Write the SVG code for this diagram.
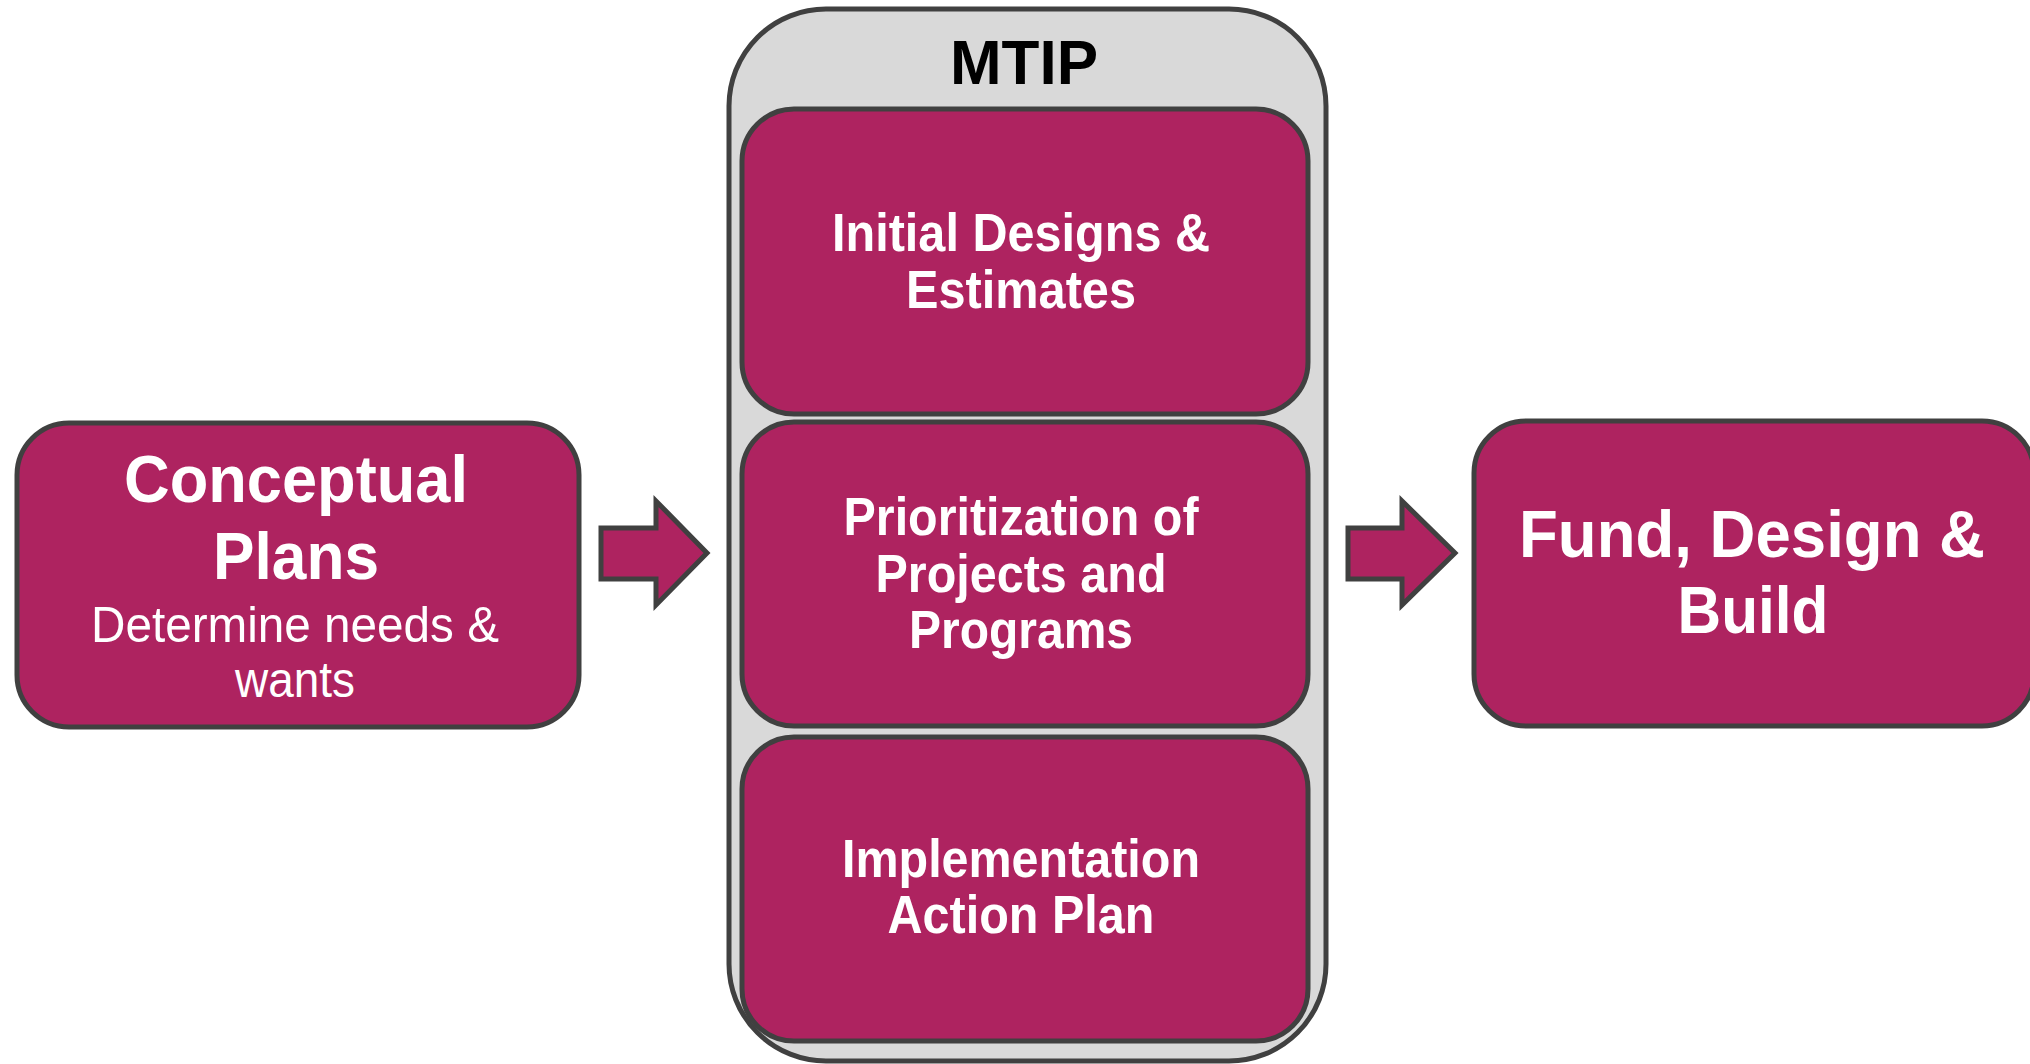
<svg xmlns="http://www.w3.org/2000/svg" width="2030" height="1064" viewBox="0 0 2030 1064">
<style>
.box{fill:#ae2360;stroke:#404040;stroke-width:5}
.cont{fill:#d9d9d9;stroke:#404040;stroke-width:5}
.t{font-family:"Liberation Sans",Arial,sans-serif;fill:#ffffff;text-anchor:middle;font-weight:bold}
.r{font-weight:normal}
.arr{fill:#ae2360;stroke:#404040;stroke-width:5}
</style>
<rect x="0" y="0" width="2030" height="1064" fill="#ffffff"/>
<g id="conceptual">
<rect class="box" x="17" y="423" width="562" height="304" rx="52" ry="52"/>
<text class="t" x="296" y="502" font-size="66" textLength="344" lengthAdjust="spacingAndGlyphs">Conceptual</text>
<text class="t" x="296" y="579" font-size="66" textLength="166" lengthAdjust="spacingAndGlyphs">Plans</text>
<text class="t r" x="295" y="642" font-size="50" textLength="408" lengthAdjust="spacingAndGlyphs">Determine needs &amp;</text>
<text class="t r" x="295" y="697" font-size="50" textLength="120" lengthAdjust="spacingAndGlyphs">wants</text>
</g>
<g id="mtip">
<rect class="cont" x="729" y="9" width="597" height="1052" rx="97" ry="97"/>
<text class="t" x="1024" y="84" font-size="63" fill="#000000" style="fill:#000000" textLength="148" lengthAdjust="spacingAndGlyphs">MTIP</text>
</g>
<g id="initial">
<rect class="box" x="742" y="109" width="566" height="305" rx="52" ry="52"/>
<text class="t" x="1021" y="251" font-size="54" textLength="378" lengthAdjust="spacingAndGlyphs">Initial Designs &amp;</text>
<text class="t" x="1021" y="308" font-size="54" textLength="230" lengthAdjust="spacingAndGlyphs">Estimates</text>
</g>
<g id="prioritization">
<rect class="box" x="742" y="422" width="566" height="304" rx="52" ry="52"/>
<text class="t" x="1021" y="535" font-size="54" textLength="355" lengthAdjust="spacingAndGlyphs">Prioritization of</text>
<text class="t" x="1021" y="592" font-size="54" textLength="291" lengthAdjust="spacingAndGlyphs">Projects and</text>
<text class="t" x="1021" y="648" font-size="54" textLength="224" lengthAdjust="spacingAndGlyphs">Programs</text>
</g>
<g id="implementation">
<rect class="box" x="742" y="737" width="566" height="304" rx="52" ry="52"/>
<text class="t" x="1021" y="877" font-size="54" textLength="358" lengthAdjust="spacingAndGlyphs">Implementation</text>
<text class="t" x="1021" y="933" font-size="54" textLength="267" lengthAdjust="spacingAndGlyphs">Action Plan</text>
</g>
<g id="fund">
<rect class="box" x="1474" y="421" width="560" height="305" rx="52" ry="52"/>
<text class="t" x="1752" y="557" font-size="66" textLength="466" lengthAdjust="spacingAndGlyphs">Fund, Design &amp;</text>
<text class="t" x="1753" y="633" font-size="66" textLength="151" lengthAdjust="spacingAndGlyphs">Build</text>
</g>
<g id="connectors">
<path class="arr" d="M601,528 H656 V501 L707,553 L656,605 V579 H601 Z"/>
<path class="arr" d="M1348,528 H1402 V501 L1455,553 L1402,605 V579 H1348 Z"/>
</g>
</svg>
